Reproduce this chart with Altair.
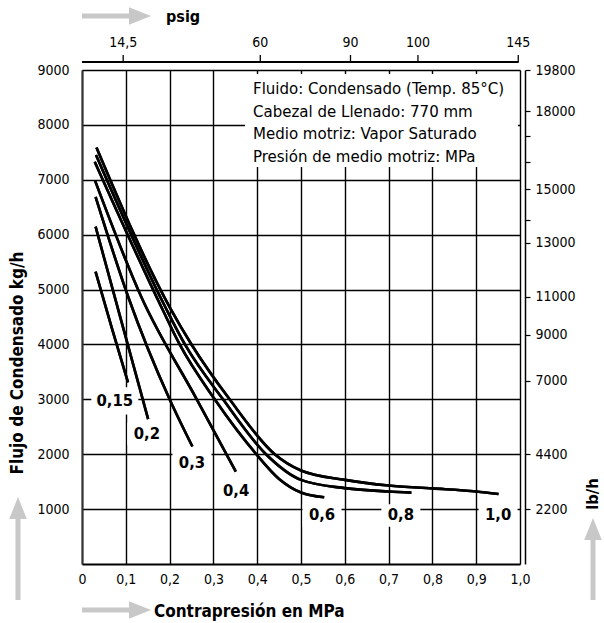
import altair as alt
import pandas as pd

# ---------------- data ----------------
series_names = ["0,15", "0,2", "0,3", "0,4", "0,6", "0,8", "1,0"]
x_015 = [0.031, 0.068, 0.105]
y_015 = [5325, 4300, 3310]
x_02 = [0.031, 0.09, 0.151]
y_02 = [6146, 4420, 2640]
x_03 = [0.031, 0.106, 0.2, 0.252]
y_03 = [6690, 4855, 3000, 2140]
x_04 = [0.03, 0.136, 0.262, 0.351]
y_04 = [6980, 4855, 3000, 1685]
x_06 = [0.029, 0.182, 0.223, 0.303, 0.398, 0.45, 0.5, 0.553]
y_06 = [7330, 4668, 4000, 3000, 2000, 1550, 1302, 1215]
x_08 = [0.032, 0.191, 0.235, 0.322, 0.42, 0.5, 0.6, 0.7, 0.752]
y_08 = [7450, 4668, 4000, 3000, 2000, 1533, 1382, 1320, 1300]
x_10 = [0.033, 0.201, 0.25, 0.337, 0.44, 0.5, 0.6, 0.7, 0.8, 0.9, 0.951]
y_10 = [7590, 4668, 4000, 3000, 2000, 1703, 1533, 1430, 1378, 1322, 1276]

label_x = [0.075, 0.148, 0.251, 0.352, 0.548, 0.728, 0.950]
label_y = [2970, 2369, 1840, 1339, 884, 884, 884]

x_ticks = [0, 0.1, 0.2, 0.3, 0.4, 0.5, 0.6, 0.7, 0.8, 0.9, 1.0]
y_ticks = [1000, 2000, 3000, 4000, 5000, 6000, 7000, 8000, 9000]

psig_pos = [0.094, 0.407, 0.613, 0.767, 0.996]
psig_labels = ["14,5", "60", "90", "100", "145"]

lbh_pos = [9000, 8250, 7800, 7320, 6830, 6270, 5850, 4870, 4180, 3340, 2000, 1000]
lbh_labels = ["19800", "18000", "", "", "15000", "", "13000", "11000", "9000", "7000", "4400", "2200"]

info_lines = [
    "Fluido: Condensado (Temp. 85°C)",
    "Cabezal de Llenado: 770 mm",
    "Medio motriz: Vapor Saturado",
    "Presión de medio motriz: MPa",
]

x_title = "Contrapresión en MPa"
y_title = "Flujo de Condensado kg/h"
top_title = "psig"
right_title = "lb/h"

# ---------------- tables ----------------
xs = [x_015, x_02, x_03, x_04, x_06, x_08, x_10]
ys = [y_015, y_02, y_03, y_04, y_06, y_08, y_10]
rows = []
for name, xx, yy in zip(series_names, xs, ys):
    for i, (a, b) in enumerate(zip(xx, yy)):
        rows.append({"s": name, "o": i, "x": a, "y": b})
curves = pd.DataFrame(rows)
labels = pd.DataFrame({"s": series_names, "x": label_x, "y": label_y})
psig = pd.DataFrame({"x": psig_pos, "t": psig_labels})
lbh = pd.DataFrame({"v": lbh_pos})
one = pd.DataFrame({"a": [0]})

FONT = "Tahoma, 'DejaVu Sans Condensed', 'Liberation Sans Narrow', 'Noto Sans', sans-serif"
GRAY = "#c8c8c8"
W, H = 438, 494

xscale = alt.Scale(domain=[0, 1], nice=False, zero=False)
yscale = alt.Scale(domain=[0, 9000], nice=False, zero=False)

xaxis = alt.Axis(
    values=x_ticks, grid=True, gridColor="black", gridWidth=1.4, gridOpacity=1,
    ticks=False, domain=True, domainColor="black", domainWidth=2,
    labelExpr="datum.value == 0 ? '0' : replace(format(datum.value, '.1f'), '.', ',')",
    labelFont=FONT, labelFontSize=14, labelColor="black", labelPadding=8,
    labelBaseline="top", title=None, labelFlush=False,
)
yaxis = alt.Axis(
    values=y_ticks, grid=True, gridColor="black", gridWidth=1.4, gridOpacity=1,
    ticks=False, domain=True, domainColor="#333333", domainWidth=2,
    format="d", labelFont=FONT, labelFontSize=14, labelColor="black",
    labelPadding=13, title=None, labelFlush=False,
)

lines = alt.Chart(curves).mark_line(
    interpolate="monotone", color="black", strokeWidth=2.6, strokeCap="butt"
).encode(
    x=alt.X("x:Q", scale=xscale, axis=xaxis),
    y=alt.Y("y:Q", scale=yscale, axis=yaxis),
    detail="s:N",
    order="o:Q",
)

# white info box hiding the grid
info_box = alt.Chart(one).mark_rect(color="white").encode(
    x=alt.value(163), x2=alt.value(436), y=alt.value(4), y2=alt.value(97)
)
info_text = alt.Chart(one).mark_text(
    align="left", baseline="middle", font=FONT, fontSize=16.7, color="black",
    lineBreak="\n", lineHeight=22.5,
).encode(x=alt.value(171), y=alt.value(19), text=alt.value("\n".join(info_lines)))

# label backgrounds and labels
box_path = "M-1,-0.58L1,-0.58L1,0.58L-1,0.58Z"
label_bg = alt.Chart(labels).transform_calculate(
    sz="length(datum.s) > 3 ? 2209 : 1521"
).mark_point(shape=box_path, filled=True, color="white", opacity=1, strokeWidth=0).encode(
    x=alt.X("x:Q", scale=xscale), y=alt.Y("y:Q", scale=yscale),
    size=alt.Size("sz:Q", scale=None, legend=None),
)
label_txt = alt.Chart(labels).mark_text(
    font=FONT, fontSize=16.5, fontWeight="bold", color="black", baseline="middle", align="center"
).encode(x=alt.X("x:Q", scale=xscale), y=alt.Y("y:Q", scale=yscale), text="s:N")

# top psig axis (custom)
top_line = alt.Chart(psig).mark_rule(color="black", strokeWidth=1.3).encode(
    x=alt.datum(0, scale=xscale), x2=alt.datum(psig_pos[-1]), y=alt.value(-8)
)
top_ticks = alt.Chart(psig).mark_rule(color="black", strokeWidth=1.3).encode(
    x=alt.X("x:Q", scale=xscale), y=alt.value(-15), y2=alt.value(-8)
)
top_labels = alt.Chart(psig).mark_text(
    font=FONT, fontSize=14, color="black", baseline="middle"
).encode(x=alt.X("x:Q", scale=xscale), y=alt.value(-27), text="t:N")

# titles
def txt(s, x, y, angle=0, align="left", size=15.5):
    return alt.Chart(one).mark_text(
        font=FONT, fontSize=size, fontWeight="bold", color="black",
        align=align, baseline="middle", angle=angle,
    ).encode(x=alt.value(x), y=alt.value(y), text=alt.value(s))

t_bottom = txt(x_title, 72, 542, size=17)
t_top = txt(top_title, 84, -53, size=16)
t_left = txt(y_title, -64, 293, angle=270, align="center", size=17)
t_right = txt(right_title, 511, 424, angle=270, align="center", size=16.5)

# gray arrows
head_r = "M-1,-0.8L1,0L-1,0.8Z"
head_u = "M-0.8,1L0,-1L0.8,1Z"

def harrow(y):
    shaft = alt.Chart(one).mark_rule(color=GRAY, strokeWidth=5).encode(
        x=alt.value(0), x2=alt.value(50), y=alt.value(y))
    head = alt.Chart(one).mark_point(shape=head_r, filled=True, color=GRAY, opacity=1, size=484, strokeWidth=0).encode(
        x=alt.value(58), y=alt.value(y))
    return shaft + head

def varrow(x, ytip):
    shaft = alt.Chart(one).mark_rule(color=GRAY, strokeWidth=5).encode(
        x=alt.value(x), y=alt.value(ytip + 16), y2=alt.value(530))
    head = alt.Chart(one).mark_point(shape=head_u, filled=True, color=GRAY, opacity=1, size=484, strokeWidth=0).encode(
        x=alt.value(x), y=alt.value(ytip + 11))
    return shaft + head

main = alt.layer(
    lines, info_box, info_text, label_bg, label_txt,
    top_line, top_ticks, top_labels,
    t_bottom, t_top, t_left, t_right,
    harrow(540), harrow(-54), varrow(-64, 427), varrow(511, 448),
    lines,
)

right_expr = " : ".join(f"datum.value == {p} ? '{l}'" for p, l in zip(lbh_pos, lbh_labels)) + " : ''"
right_axis = alt.Axis(
    orient="right", values=lbh_pos, labelExpr=right_expr, grid=False,
    ticks=True, tickSize=5, tickColor="black", tickWidth=1.2,
    domain=True, domainColor="black", domainWidth=1.5, offset=5,
    labelFont=FONT, labelFontSize=14, labelColor="black", labelPadding=5,
    title=None, labelFlush=False,
)
right = alt.Chart(lbh).mark_tick(opacity=0).encode(
    y=alt.Y("v:Q", scale=yscale, axis=right_axis)
)

chart = alt.layer(main, right).resolve_scale(y="independent").properties(
    width=W, height=H,
    autosize=alt.AutoSizeParams(type="none"),
    padding={"left": 82, "top": 70, "right": 84, "bottom": 59},
).configure_view(stroke="black", strokeWidth=1.5).configure(background="white")

chart.save("out.html", embed_options={"renderer": "svg", "actions": False})
